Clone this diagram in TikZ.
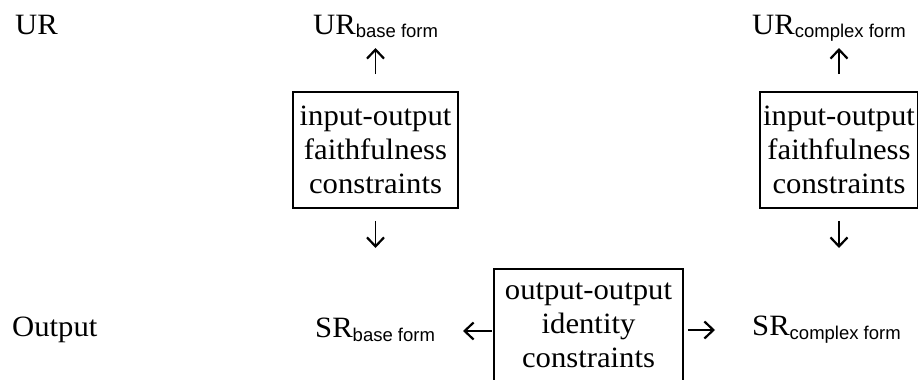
\documentclass[tikz,border=0pt]{standalone}
\usepackage{fontspec}
\setmainfont{Liberation Serif}[FakeStretch=1.04]
\newfontfamily\formfont{Liberation Sans}
\usetikzlibrary{arrows.meta}
\newcommand{\formsub}[1]{\raisebox{-4pt}{\fontsize{18.5}{18.5}\formfont #1}}

\begin{document}
\begin{tikzpicture}[x=1pt,y=-1pt,
    lbl/.style={inner sep=0pt, anchor=base west, font=\fontsize{29.5}{34}\selectfont},
    cbox/.style={draw, line width=1.8pt, align=center, inner xsep=3pt, minimum height=116pt, font=\fontsize{29.5}{34}\selectfont},
    arr/.style={-{Straight Barb[length=9pt,width=17pt,line width=2.2pt]}, line width=1.8pt}]
    \useasboundingbox (0,0) rectangle (918,380);
    % row labels
    \node[lbl] (ur) at (15,34) {UR};
    \node[lbl] (out) at (12,336) {Output};
    % representations
    \node[lbl] (urbase) at (313,34) {UR\formsub{base form}};
    \node[lbl] (urcomplex) at (752,34) {UR\formsub{complex form}};
    \node[lbl] (srbase) at (315,337) {SR\formsub{base form}};
    \node[lbl] (srcomplex) at (752,335) {SR\formsub{complex form}};
    % constraint boxes
    \node[cbox, minimum width=165pt] (iobase) at (375.5,150) {input-output\\faithfulness\\constraints};
    \node[cbox, minimum width=154pt] (iocomplex) at (839,150) {input-output\\faithfulness\\constraints};
    \node[cbox, anchor=north, minimum width=189pt, minimum height=112pt] (idbox) at (588.5,268) {output-output\\identity\\constraints};
    % arrow tips
    \coordinate (upbase) at (iobase.north |- 0,48);
    \coordinate (upcomplex) at (iocomplex.north |- 0,48);
    \coordinate (downbase) at (iobase.south |- 0,248);
    \coordinate (downcomplex) at (iocomplex.south |- 0,248);
    \coordinate (leftend) at (463,331);
    \coordinate (rightend) at (715,330);
    \draw[arr, shorten <=17pt] (iobase.north) -- (upbase);
    \draw[arr, shorten <=17pt] (iocomplex.north) -- (upcomplex);
    \draw[arr, shorten <=12pt] (iobase.south) -- (downbase);
    \draw[arr, shorten <=12pt] (iocomplex.south) -- (downcomplex);
    \draw[arr, shorten <=1pt] (idbox.west |- leftend) -- (leftend);
    \draw[arr, shorten <=4pt] (idbox.east |- rightend) -- (rightend);
\end{tikzpicture}
\end{document}
